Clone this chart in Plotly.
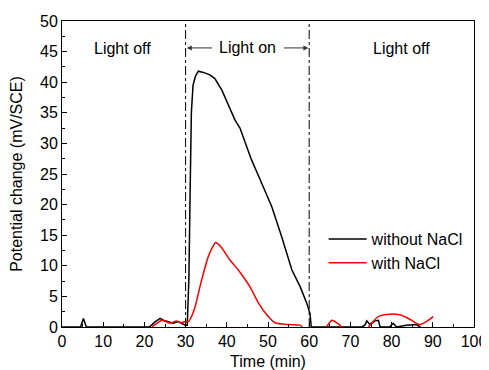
import plotly.graph_objects as go

# Data
time_without = [0, 4.5, 5.2, 5.9, 21.0, 21.4, 22.5, 23.8, 24.6, 25.4, 26.2, 27.0, 28.2, 29.2, 29.9,
                30.4, 30.8, 31.1, 31.4, 31.8, 32.4, 33.1, 34.3, 35.9, 37.1, 38.8, 40.8, 42.0, 43.2,
                44.6, 46.0, 47.5, 48.9, 50.9, 53.3, 55.8, 57.8, 59.4, 60.2, 60.5,
                72.8, 73.5, 74.0, 74.6, 75.2, 76.0, 76.8, 77.2, 79.5, 80.4, 81.2, 83.6, 86.0, 87.0]
pot_without = [0, 0, 1.4, 0, 0, 0.1, 0.8, 1.4, 1.1, 0.9, 0.7, 0.6, 0.9, 0.6, 0.3,
               0.3, 8.0, 22.0, 35.0, 39.5, 41.0, 41.8, 41.6, 41.2, 40.6, 38.7, 35.7, 33.8, 32.5,
               30.0, 27.3, 25.0, 22.7, 19.7, 14.8, 9.3, 6.6, 3.9, 2.2, 0,
               0, 0.3, 1.0, 0.5, 0.6, 1.0, 1.1, 0, 0, 0.6, 0, 0.3, 0.4, 0]

time_with = [21.8, 23.0, 24.2, 25.2, 26.2, 27.0, 27.8, 28.9, 29.9, 30.7, 31.5, 32.3, 33.1, 33.9,
             35.5, 36.5, 37.3, 38.0, 38.8, 40.8, 42.8, 44.2, 45.6, 47.7, 49.7, 51.7, 54.9, 57.8, 58.3,
             None,
             64.2, 65.5, 66.9, 67.9,
             None,
             74.4, 75.5, 76.8, 78.2, 79.6, 81.0, 82.0, 83.5, 84.9, 86.0, 86.9, 87.7, 88.5, 90.1]
pot_with = [0, 0.6, 1.1, 0.9, 0.6, 0.8, 1.0, 0.7, 0.9, 0.9, 1.8, 3.3, 5.5, 7.7,
            11.5, 13.0, 13.8, 13.5, 12.9, 10.9, 9.3, 8.0, 6.6, 3.9, 2.0, 0.7, 0.4, 0.3, 0,
            None,
            0, 1.1, 0.6, 0,
            None,
            0, 0.9, 1.7, 2.0, 2.1, 2.1, 2.0, 1.6, 1.1, 0.6, 0.4, 0.6, 0.9, 1.7]

x_ticks = [0, 10, 20, 30, 40, 50, 60, 70, 80, 90, 100]
y_ticks = [0, 5, 10, 15, 20, 25, 30, 35, 40, 45, 50]
light_switch_times = [30, 60]

FONT = "Liberation Sans, Arial, sans-serif"

fig = go.Figure()
fig.add_trace(go.Scatter(x=time_without, y=pot_without, mode="lines", name="without NaCl",
                         line=dict(color="black", width=1.5)))
fig.add_trace(go.Scatter(x=time_with, y=pot_with, mode="lines", name="with NaCl",
                         line=dict(color="#ff0000", width=1.5, shape="spline", smoothing=0.6),
                         connectgaps=False))

for t in light_switch_times:
    fig.add_shape(type="line", x0=t, x1=t, y0=0, y1=50, xref="x", yref="y",
                  line=dict(color="black", width=1, dash="dashdot"))

ann_font = dict(family=FONT, size=16, color="black")
fig.add_annotation(x=14.8, y=45.5, text="Light off", showarrow=False, font=ann_font)
fig.add_annotation(x=82.4, y=45.5, text="Light off", showarrow=False, font=ann_font)
fig.add_annotation(x=45, y=45.6, text="Light on", showarrow=False, font=ann_font)
fig.add_annotation(x=30.3, y=45.6, ax=36.8, ay=45.6, xref="x", yref="y", axref="x", ayref="y",
                   text="", showarrow=True, arrowhead=2, arrowsize=1, arrowwidth=1, arrowcolor="#333")
fig.add_annotation(x=59.8, y=45.6, ax=53.5, ay=45.6, xref="x", yref="y", axref="x", ayref="y",
                   text="", showarrow=True, arrowhead=2, arrowsize=1, arrowwidth=1, arrowcolor="#333")

axis_common = dict(showgrid=False, zeroline=False, showline=True, linecolor="black", linewidth=1,
                   mirror=True, ticks="inside", ticklen=5, tickwidth=1, tickcolor="black",
                   automargin=False,
                   tickfont=dict(family=FONT, size=16, color="black"))

fig.update_xaxes(range=[0, 100], tickvals=x_ticks, ticktext=[str(v) for v in x_ticks],
                 title=dict(text="Time (min)", font=dict(family=FONT, size=16, color="black"), standoff=6),
                 minor=dict(dtick=5, ticks="inside", ticklen=3, tickcolor="black"),
                 **axis_common)
fig.update_yaxes(range=[0, 50], tickvals=y_ticks, ticktext=[str(v) for v in y_ticks],
                 title=dict(text="Potential change (mV/SCE)", font=dict(family=FONT, size=16, color="black"), standoff=13),
                 minor=dict(dtick=2.5, ticks="inside", ticklen=3, tickcolor="black"),
                 **axis_common)

# page body has an 8px margin, so the figure is sized/offset to compensate
fig.update_layout(
    width=481, height=362,
    margin=dict(l=54, r=15, t=13, b=43),
    paper_bgcolor="white", plot_bgcolor="white",
    showlegend=True,
    legend=dict(x=0.635, y=0.343, xanchor="left", yanchor="top", bgcolor="rgba(0,0,0,0)",
                itemwidth=38,
                font=dict(family=FONT, size=16, color="black"), tracegroupgap=0),
)

fig.write_html("out.html")
